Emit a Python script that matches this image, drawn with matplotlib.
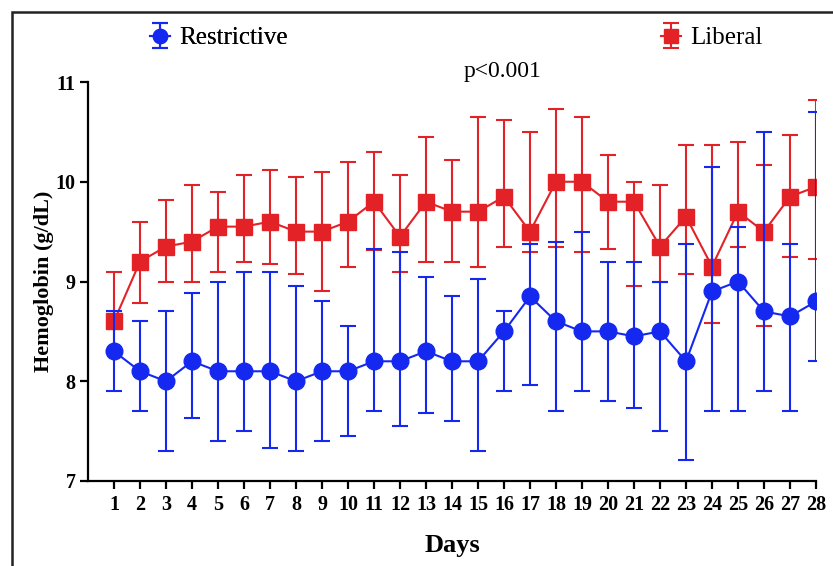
import numpy as np
import matplotlib
matplotlib.use('Agg')
from matplotlib import pyplot as plt
from matplotlib.patches import Rectangle

plt.rcParams['font.family'] = ['Liberation Serif', 'DejaVu Serif']

days = list(range(1, 29))

# restrictive: mean, lower and upper ends of the bars
restr_mean = [8.30, 8.10, 8.00, 8.20, 8.10, 8.10, 8.10, 8.00, 8.10, 8.10,
              8.20, 8.20, 8.30, 8.20, 8.20, 8.50, 8.85, 8.60, 8.50, 8.50,
              8.45, 8.50, 8.20, 8.90, 9.00, 8.70, 8.65, 8.80]
restr_low = [7.90, 7.70, 7.30, 7.63, 7.40, 7.50, 7.33, 7.30, 7.40, 7.45,
             7.70, 7.55, 7.68, 7.60, 7.30, 7.90, 7.96, 7.70, 7.90, 7.80,
             7.73, 7.50, 7.21, 7.70, 7.70, 7.90, 7.70, 8.20]
restr_high = [8.70, 8.60, 8.70, 8.88, 9.00, 9.10, 9.10, 8.95, 8.80, 8.55,
              9.33, 9.30, 9.05, 8.85, 9.03, 8.70, 9.38, 9.40, 9.50, 9.20,
              9.20, 9.00, 9.38, 10.15, 9.55, 10.50, 9.38, 10.70]

# liberal
lib_mean = [8.60, 9.20, 9.35, 9.40, 9.55, 9.55, 9.60, 9.50, 9.50, 9.60,
            9.80, 9.45, 9.80, 9.70, 9.70, 9.85, 9.50, 10.00, 10.00, 9.80,
            9.80, 9.35, 9.65, 9.15, 9.70, 9.50, 9.85, 9.95]
lib_low = [8.30, 8.78, 9.00, 9.00, 9.10, 9.20, 9.18, 9.08, 8.90, 9.15,
           9.32, 9.10, 9.20, 9.20, 9.15, 9.35, 9.30, 9.35, 9.30, 9.33,
           8.95, 9.00, 9.08, 8.58, 9.35, 8.55, 9.25, 9.23]
lib_high = [9.10, 9.60, 9.82, 9.97, 9.90, 10.07, 10.12, 10.05, 10.10, 10.20,
            10.30, 10.07, 10.45, 10.22, 10.65, 10.62, 10.50, 10.73, 10.65, 10.27,
            10.00, 9.97, 10.37, 10.37, 10.40, 10.17, 10.47, 10.82]

blue = '#1428f0'
red = '#e32228'

fig = plt.figure(figsize=(8.33, 5.66), dpi=100)
ax = fig.add_axes([88 / 833, 1 - 481 / 566, (816 - 88) / 833, (481 - 82) / 566])

lm = np.array(lib_mean)
rm = np.array(restr_mean)
h_lib = ax.errorbar(days, lib_mean, yerr=[lm - np.array(lib_low), np.array(lib_high) - lm],
                    color=red, marker='s', markersize=11.5, linewidth=1.5,
                    elinewidth=1.5, capsize=6, capthick=1.5, zorder=3)
h_res = ax.errorbar(days, restr_mean, yerr=[rm - np.array(restr_low), np.array(restr_high) - rm],
                    color=blue, marker='o', markersize=12, linewidth=1.5,
                    elinewidth=1.5, capsize=6, capthick=1.5, zorder=4)

ax.set_xlim(0, 28)
ax.set_ylim(7, 11)
ax.set_xticks(days)
ax.set_yticks([7, 8, 9, 10, 11])
ax.spines['top'].set_visible(False)
ax.spines['right'].set_visible(False)
for s in ['left', 'bottom']:
    ax.spines[s].set_linewidth(1.6)
ax.tick_params(direction='out', length=6, width=1.6, labelsize=14.5, pad=3)
ax.tick_params(axis='x', pad=4)
for lab in ax.get_xticklabels() + ax.get_yticklabels():
    lab.set_fontweight('bold')

ax.set_xlabel('Days', fontsize=19, fontweight='bold', labelpad=14)
ax.set_ylabel('Hemoglobin (g/dL)', fontsize=16, fontweight='bold', labelpad=1)

fig.text(503 / 833, 1 - 72 / 566, 'p<0.001', fontsize=17, ha='center', va='center')

leg1 = fig.legend([h_res], ['Restrictive'], loc='center left',
                  bbox_to_anchor=(127 / 833, 1 - 38 / 566), frameon=False,
                  fontsize=18, handlelength=0.8, handletextpad=0.4, markerscale=0.85)
fig.add_artist(leg1)
fig.legend([h_lib], ['Liberal'], loc='center left',
           bbox_to_anchor=(638 / 833, 1 - 38 / 566), frameon=False,
           fontsize=18, handlelength=0.8, handletextpad=0.4, markerscale=0.85)

# frame around the figure
fig.patches.append(Rectangle((12 / 833, -0.05), 1.0, 1 - 12 / 566 + 0.05,
                             transform=fig.transFigure, fill=False,
                             edgecolor='#222222', linewidth=1.8))

plt.savefig('out.png', dpi=100)
